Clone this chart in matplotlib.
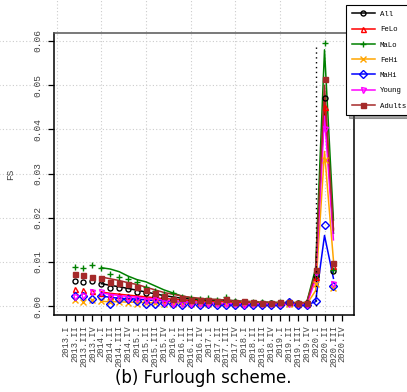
import matplotlib
matplotlib.use("Agg")
import matplotlib.pyplot as plt
from matplotlib.lines import Line2D

# quarters on the x axis
years = list(range(2013, 2021))
quarters = ["I", "II", "III", "IV"]
tick_labels = [f"{y}.{q}" for y in years for q in quarters]

# raw FS values, 2013.II .. 2020.III
raw_x = list(range(1, 31))
raw = {
    "All":    [0.0057, 0.0055, 0.0057, 0.0051, 0.0041, 0.0040, 0.0039, 0.0033, 0.0030, 0.0024,
               0.0020, 0.0015, 0.0014, 0.0012, 0.0011, 0.0011, 0.0010, 0.0011, 0.0009, 0.0008,
               0.0008, 0.0007, 0.0008, 0.0008, 0.0007, 0.0007, 0.0007, 0.0068, 0.0470, 0.0080],
    "FeLo":   [0.0038, 0.0037, 0.0035, 0.0030, 0.0024, 0.0025, 0.0024, 0.0021, 0.0017, 0.0016,
               0.0017, 0.0012, 0.0011, 0.0011, 0.0010, 0.0009, 0.0010, 0.0009, 0.0008, 0.0008,
               0.0007, 0.0007, 0.0007, 0.0007, 0.0007, 0.0006, 0.0006, 0.0066, 0.0450, 0.0090],
    "MaLo":   [0.0088, 0.0087, 0.0094, 0.0087, 0.0072, 0.0065, 0.0061, 0.0054, 0.0044, 0.0034,
               0.0027, 0.0030, 0.0021, 0.0019, 0.0017, 0.0018, 0.0015, 0.0020, 0.0012, 0.0010,
               0.0009, 0.0010, 0.0008, 0.0009, 0.0009, 0.0008, 0.0008, 0.0070, 0.0595, 0.0081],
    "FeHi":   [0.0013, 0.0010, 0.0015, 0.0011, 0.0009, 0.0010, 0.0008, 0.0004, 0.0008, 0.0007,
               0.0006, 0.0005, 0.0006, 0.0005, 0.0005, 0.0005, 0.0006, 0.0005, 0.0005, 0.0004,
               0.0005, 0.0004, 0.0005, 0.0004, 0.0004, 0.0004, 0.0004, 0.0050, 0.0330, 0.0042],
    "MaHi":   [0.0022, 0.0022, 0.0017, 0.0023, 0.0005, 0.0016, 0.0017, 0.0012, 0.0006, 0.0005,
               0.0007, 0.0004, 0.0002, 0.0004, 0.0003, 0.0004, 0.0003, 0.0003, 0.0002, 0.0003,
               0.0002, 0.0002, 0.0003, 0.0002, 0.0010, 0.0002, 0.0002, 0.0012, 0.0183, 0.0045],
    "Young":  [0.0021, 0.0022, 0.0033, 0.0031, 0.0021, 0.0019, 0.0017, 0.0016, 0.0012, 0.0014,
               0.0008, 0.0004, 0.0006, 0.0005, 0.0004, 0.0004, 0.0005, 0.0004, 0.0004, 0.0003,
               0.0004, 0.0004, 0.0005, 0.0004, 0.0005, 0.0005, 0.0003, 0.0075, 0.0400, 0.0051],
    "Adults": [0.0073, 0.0070, 0.0066, 0.0063, 0.0054, 0.0053, 0.0051, 0.0044, 0.0037, 0.0030,
               0.0024, 0.0017, 0.0019, 0.0015, 0.0014, 0.0013, 0.0012, 0.0016, 0.0010, 0.0011,
               0.0009, 0.0008, 0.0008, 0.0009, 0.0009, 0.0008, 0.0008, 0.0081, 0.0515, 0.0097],
}

# smoothed trend, 2014.I .. 2020.III
trend_x = list(range(4, 31))
trend = {
    "All":    [0.0051, 0.0047, 0.0044, 0.0040, 0.0036, 0.0032, 0.0028, 0.0024, 0.0021, 0.0018,
               0.0016, 0.0014, 0.0013, 0.0012, 0.0011, 0.0010, 0.0009, 0.0008, 0.0008, 0.0007,
               0.0007, 0.0007, 0.0007, 0.0007, 0.0068, 0.0460, 0.0165],
    "FeLo":   [0.0032, 0.0029, 0.0027, 0.0025, 0.0023, 0.0021, 0.0019, 0.0017, 0.0016, 0.0014,
               0.0013, 0.0012, 0.0011, 0.0010, 0.0010, 0.0009, 0.0008, 0.0008, 0.0007, 0.0007,
               0.0007, 0.0007, 0.0006, 0.0006, 0.0070, 0.0470, 0.0175],
    "MaLo":   [0.0087, 0.0084, 0.0078, 0.0068, 0.0060, 0.0055, 0.0046, 0.0037, 0.0030, 0.0023,
               0.0019, 0.0016, 0.0015, 0.0015, 0.0014, 0.0012, 0.0011, 0.0010, 0.0009, 0.0009,
               0.0008, 0.0008, 0.0008, 0.0008, 0.0085, 0.0580, 0.0195],
    "FeHi":   [0.0011, 0.0010, 0.0010, 0.0009, 0.0009, 0.0008, 0.0008, 0.0007, 0.0007, 0.0007,
               0.0006, 0.0006, 0.0006, 0.0006, 0.0005, 0.0005, 0.0005, 0.0005, 0.0005, 0.0005,
               0.0004, 0.0004, 0.0004, 0.0004, 0.0035, 0.0350, 0.0104],
    "MaHi":   [0.0023, 0.0020, 0.0018, 0.0017, 0.0016, 0.0014, 0.0013, 0.0012, 0.0011, 0.0010,
               0.0009, 0.0008, 0.0007, 0.0006, 0.0005, 0.0005, 0.0004, 0.0004, 0.0004, 0.0004,
               0.0004, 0.0004, 0.0003, 0.0003, 0.0010, 0.0160, 0.0063],
    "Young":  [0.0030, 0.0027, 0.0024, 0.0022, 0.0020, 0.0018, 0.0016, 0.0014, 0.0012, 0.0010,
               0.0009, 0.0008, 0.0007, 0.0006, 0.0006, 0.0005, 0.0005, 0.0005, 0.0005, 0.0004,
               0.0004, 0.0004, 0.0004, 0.0004, 0.0060, 0.0430, 0.0150],
    "Adults": [0.0066, 0.0062, 0.0058, 0.0053, 0.0049, 0.0043, 0.0037, 0.0031, 0.0027, 0.0023,
               0.0020, 0.0018, 0.0016, 0.0015, 0.0014, 0.0012, 0.0011, 0.0010, 0.0009, 0.0009,
               0.0008, 0.0008, 0.0008, 0.0008, 0.0075, 0.0500, 0.0172],
}

groups = ["All", "FeLo", "MaLo", "FeHi", "MaHi", "Young", "Adults"]
colors = {"All": "black", "FeLo": "red", "MaLo": "green", "FeHi": "orange",
          "MaHi": "blue", "Young": "magenta", "Adults": "#a52a2a"}
markers = {"All": "o", "FeLo": "^", "MaLo": "+", "FeHi": "x",
           "MaHi": "D", "Young": "v", "Adults": "s"}
open_markers = {"o", "^", "D", "v"}

covid_idx = 28  # 2020.I
mono = "Liberation Mono"

fig = plt.figure(figsize=(4.07, 3.92), dpi=100)
ax = fig.add_axes([0.1327, 0.1964, 0.737, 0.7194])

handles = []
for g in groups:
    c = colors[g]
    m = markers[g]
    ms = 3.6 if m in open_markers else 4.2
    fc = "none" if m in open_markers else c
    if m == "s":
        ms = 3.6
    ax.plot(trend_x, trend[g], color=c, lw=1.1, zorder=3)
    ax.plot(raw_x, raw[g], ls="none", marker=m, ms=ms, mfc=fc, mec=c, mew=1.0, zorder=4)
    handles.append(Line2D([], [], color=c, lw=1.1, marker=m, ms=ms, mfc=fc, mec=c, mew=1.0, label=g))

ax.vlines(covid_idx, 0, 0.0587, colors="black", linestyles=(0, (1, 2.5)), lw=1.0, zorder=5)

ax.set_xlim(-1.3, 32.3)
ax.set_ylim(-0.002, 0.0618)

# grid lines that run out past the axes frame
for v in [0.0, 0.01, 0.02, 0.03, 0.04, 0.05, 0.06]:
    ax.axhline(v, xmin=-0.19, xmax=1.0, color="#cccccc", lw=0.8, ls=(0, (1, 2)), clip_on=False, zorder=0)
for gx in [-1, 4, 9, 14, 19, 24, 29]:
    ax.axvline(gx, ymin=0, ymax=1.12, color="#cccccc", lw=0.8, ls=(0, (1, 2)), clip_on=False, zorder=0)

ax.set_xticks(range(len(tick_labels)))
ax.set_xticklabels(tick_labels, rotation=90, fontsize=6.3, family=mono, color="#444444")
ax.set_yticks([0.0, 0.01, 0.02, 0.03, 0.04, 0.05, 0.06])
ax.set_yticklabels(["0.00", "0.01", "0.02", "0.03", "0.04", "0.05", "0.06"],
                   rotation=90, va="center", fontsize=6.8, family=mono, color="#444444")
ax.tick_params(axis="both", direction="out", length=4.5, width=0.9, color="black")
ax.tick_params(axis="x", pad=3)
ax.tick_params(axis="y", pad=4)
ax.set_ylabel("FS", fontsize=6.8, family=mono, color="#444444")
ax.yaxis.set_label_coords(-0.13, 0.5)

for side in ["left", "bottom", "right"]:
    ax.spines[side].set_linewidth(1.1)
    ax.spines[side].set_color("black")
ax.spines["top"].set_linewidth(1.1)
ax.spines["top"].set_color("#555555")

leg = fig.legend(handles=handles, loc="upper left", bbox_to_anchor=(346 / 407, 1 - 5 / 392),
                 prop={"family": mono, "size": 5.3}, frameon=True, fancybox=False, shadow=True,
                 handlelength=3.1, labelspacing=1.1, borderpad=0.8, handletextpad=0.7,
                 borderaxespad=0)
leg.get_frame().set_edgecolor("black")
leg.get_frame().set_linewidth(0.8)

fig.text(0.5, 1 - 378 / 392, "(b) Furlough scheme.", ha="center", va="center", fontsize=12)

fig.savefig("out.png", dpi=100)
